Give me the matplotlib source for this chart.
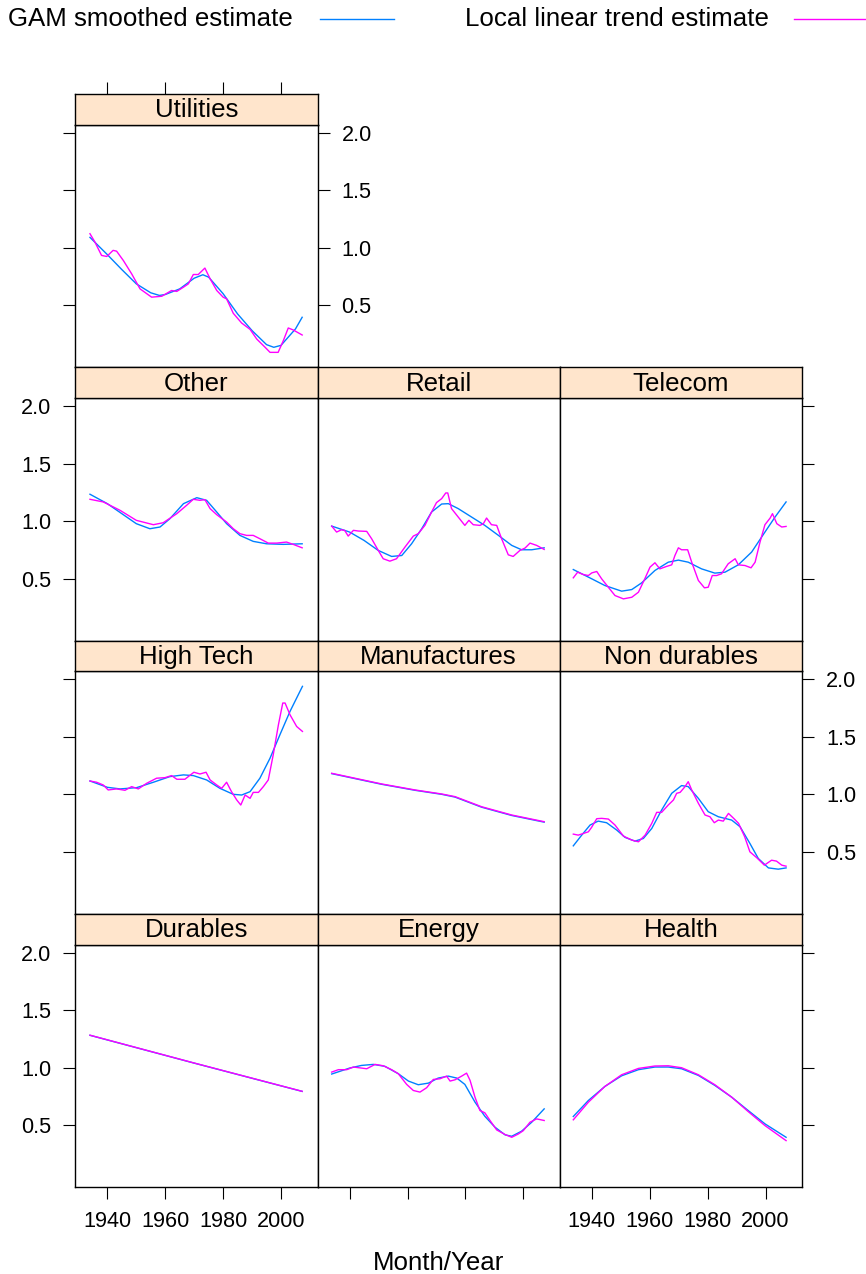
import matplotlib
matplotlib.use('Agg')
import matplotlib.pyplot as plt
from matplotlib.lines import Line2D

plt.rcParams['font.family'] = ['Liberation Sans', 'DejaVu Sans']

# ---------------- data ----------------
legend_labels = ['GAM smoothed estimate', 'Local linear trend estimate']
x_ticks = [1940, 1960, 1980, 2000]
y_ticks = [0.5, 1.0, 1.5, 2.0]
y_tick_labels = ['0.5', '1.0', '1.5', '2.0']
x_label = 'Month/Year'

utilities_gam_year = [1934, 1940, 1945, 1950, 1955, 1958, 1960, 1965, 1970, 1973, 1975, 1980, 1985, 1990, 1995, 1997.5, 2000, 2005, 2007.3]
utilities_gam = [1.09, 0.94, 0.81, 0.686, 0.608, 0.585, 0.593, 0.642, 0.735, 0.765, 0.744, 0.60, 0.424, 0.279, 0.157, 0.134, 0.151, 0.294, 0.395]
utilities_llt_year = [1934, 1935.7, 1938, 1939.8, 1942, 1943.2, 1945.5, 1948.4, 1951.3, 1955.3, 1958.8, 1962.2, 1964, 1966.3, 1968, 1969.7, 1971.4, 1973.7, 1975.5, 1977.8, 1980, 1981.2, 1983.5, 1986.4, 1989.3, 1991.6, 1994.5, 1996.2, 1999, 2000.8, 2002.5, 2004.2, 2007.3]
utilities_llt = [1.122, 1.05, 0.933, 0.924, 0.977, 0.97, 0.89, 0.773, 0.642, 0.57, 0.578, 0.628, 0.62, 0.657, 0.686, 0.767, 0.767, 0.823, 0.73, 0.628, 0.57, 0.555, 0.43, 0.345, 0.29, 0.206, 0.134, 0.09, 0.09, 0.192, 0.302, 0.285, 0.241]

other_gam_year = [1934, 1940, 1945, 1950, 1954.7, 1958.2, 1961.6, 1966.3, 1970.9, 1974.3, 1977.8, 1981.2, 1985.8, 1990.4, 1995, 2000.8, 2007.3]
other_gam = [1.233, 1.151, 1.064, 0.977, 0.933, 0.948, 1.02, 1.151, 1.203, 1.18, 1.078, 0.977, 0.875, 0.823, 0.802, 0.797, 0.802]
other_llt_year = [1934, 1938.6, 1944.4, 1950, 1955.9, 1959.3, 1964, 1967.4, 1969.7, 1972, 1973.7, 1975.5, 1977.8, 1981.2, 1983.5, 1985.8, 1988.1, 1990.4, 1992.7, 1995.6, 1998.5, 2001.9, 2004.2, 2007.3]
other_llt = [1.189, 1.166, 1.093, 1.006, 0.968, 0.985, 1.064, 1.137, 1.189, 1.18, 1.186, 1.108, 1.055, 0.991, 0.933, 0.89, 0.875, 0.875, 0.846, 0.808, 0.808, 0.817, 0.797, 0.767]

retail_gam_year = [1933.8, 1940, 1945, 1949.9, 1954.5, 1958, 1961.4, 1964.9, 1968.3, 1971.8, 1974.1, 1977.5, 1982.1, 1986.7, 1991.4, 1996, 1999.4, 2002.9, 2007.2]
retail_gam = [0.956, 0.904, 0.831, 0.744, 0.692, 0.70, 0.802, 0.933, 1.078, 1.148, 1.151, 1.108, 1.035, 0.962, 0.875, 0.788, 0.75, 0.75, 0.767]
retail_llt_year = [1933.8, 1935.5, 1937.2, 1938.3, 1939.5, 1941.3, 1943, 1945.9, 1947.6, 1949.9, 1951.6, 1953.9, 1956.2, 1959.1, 1962, 1963.7, 1966, 1968.3, 1970, 1971.8, 1973.2, 1973.9, 1975.2, 1977.5, 1979.8, 1981.2, 1982.7, 1985, 1986.2, 1987.3, 1989, 1990.8, 1992.5, 1994.8, 1996.5, 1998.8, 2000.6, 2002.3, 2004.6, 2007.2]
retail_llt = [0.956, 0.904, 0.924, 0.918, 0.869, 0.919, 0.913, 0.91, 0.846, 0.744, 0.672, 0.651, 0.672, 0.773, 0.869, 0.89, 0.962, 1.078, 1.16, 1.195, 1.244, 1.244, 1.108, 1.035, 0.962, 1.006, 0.968, 0.962, 0.977, 1.026, 0.968, 0.962, 0.846, 0.706, 0.692, 0.744, 0.765, 0.808, 0.788, 0.753]

telecom_gam_year = [1933.6, 1940, 1944.5, 1950.3, 1953.8, 1957.2, 1961.8, 1966.4, 1969.9, 1973.3, 1977.9, 1982.5, 1986, 1990.6, 1995.2, 1999.8, 2003.3, 2007.1]
telecom_gam = [0.578, 0.497, 0.439, 0.39, 0.404, 0.462, 0.57, 0.642, 0.66, 0.642, 0.584, 0.547, 0.555, 0.619, 0.73, 0.904, 1.035, 1.166]
telecom_llt_year = [1933.6, 1935.1, 1937, 1938.8, 1940, 1941.7, 1943.4, 1945.7, 1948, 1950.9, 1953.8, 1956.1, 1958.4, 1960.1, 1961.8, 1963.5, 1965.8, 1967.6, 1968.7, 1969.9, 1971, 1973.1, 1974.5, 1976.8, 1978.9, 1980.2, 1981.6, 1983.1, 1984.8, 1987.1, 1989.5, 1990.6, 1992.9, 1995, 1996.4, 1998.1, 1999.8, 2001.6, 2002.4, 2003.9, 2005.6, 2007.1]
telecom_llt = [0.506, 0.555, 0.535, 0.526, 0.549, 0.561, 0.497, 0.424, 0.352, 0.323, 0.337, 0.381, 0.503, 0.599, 0.637, 0.584, 0.605, 0.619, 0.70, 0.767, 0.75, 0.75, 0.642, 0.483, 0.419, 0.424, 0.526, 0.526, 0.541, 0.628, 0.672, 0.619, 0.613, 0.593, 0.642, 0.817, 0.968, 1.026, 1.064, 0.977, 0.948, 0.953]

hightech_gam_year = [1934, 1940, 1944.4, 1950.1, 1955.9, 1961.6, 1966.3, 1969.7, 1974.3, 1978.9, 1983.5, 1986.4, 1989.3, 1992.7, 1996.2, 1999.6, 2003.1, 2007.4]
hightech_gam = [1.116, 1.061, 1.047, 1.058, 1.105, 1.154, 1.169, 1.163, 1.125, 1.052, 1.0, 0.994, 1.023, 1.14, 1.314, 1.517, 1.721, 1.939]
hightech_llt_year = [1934, 1936.3, 1938.6, 1940.3, 1943.2, 1946.1, 1948.4, 1950.7, 1953.6, 1957, 1959.9, 1962.2, 1964, 1966.8, 1969.9, 1972, 1974.1, 1975.5, 1977.8, 1979.5, 1981.2, 1982.9, 1984.7, 1986.1, 1987.6, 1989.3, 1990.4, 1992.2, 1993.9, 1995.6, 1997.3, 1999.1, 2000.6, 2001.4, 2003.1, 2005.4, 2007.4]
hightech_llt = [1.116, 1.105, 1.081, 1.038, 1.047, 1.035, 1.067, 1.047, 1.096, 1.14, 1.145, 1.163, 1.131, 1.131, 1.192, 1.177, 1.192, 1.125, 1.081, 1.052, 1.105, 1.023, 0.951, 0.907, 0.994, 0.965, 1.017, 1.017, 1.067, 1.125, 1.343, 1.605, 1.794, 1.794, 1.692, 1.59, 1.547]

manuf_gam_year = [1933.8, 1941.8, 1951.1, 1962.6, 1971.8, 1976.4, 1985.6, 1996, 2007.2]
manuf_gam = [1.18, 1.137, 1.087, 1.035, 1.0, 0.976, 0.888, 0.816, 0.758]
manuf_llt_year = [1933.8, 1941.8, 1951.1, 1962.6, 1971.8, 1976.4, 1985.6, 1996, 2007.2]
manuf_llt = [1.183, 1.14, 1.09, 1.038, 1.003, 0.98, 0.892, 0.82, 0.762]

nondur_gam_year = [1933.6, 1936.5, 1939.4, 1942.2, 1945.1, 1948.6, 1951.5, 1954.9, 1957.8, 1960.7, 1964.1, 1967.6, 1971, 1973.3, 1976.8, 1980.2, 1983.7, 1988.3, 1991.2, 1994.6, 1997.5, 2001, 2004.4, 2007.1]
nondur_gam = [0.552, 0.645, 0.733, 0.767, 0.753, 0.689, 0.625, 0.593, 0.616, 0.703, 0.863, 1.009, 1.076, 1.067, 0.965, 0.849, 0.805, 0.776, 0.718, 0.573, 0.442, 0.36, 0.349, 0.36]
nondur_llt_year = [1933.6, 1935.3, 1938.8, 1939.9, 1941.7, 1943.4, 1945.7, 1948, 1950.9, 1953.8, 1956.1, 1958.4, 1960.7, 1962.4, 1964.1, 1966.4, 1968.2, 1969.3, 1970.5, 1972.2, 1973.3, 1974.5, 1976.8, 1979.1, 1980.8, 1982.3, 1983.7, 1985.4, 1987.2, 1989, 1990.7, 1992.8, 1994.6, 1997, 1999.6, 2002.1, 2003.8, 2005.6, 2007.1]
nondur_llt = [0.654, 0.645, 0.674, 0.712, 0.788, 0.791, 0.785, 0.733, 0.637, 0.602, 0.587, 0.645, 0.747, 0.843, 0.843, 0.907, 0.951, 1.009, 1.017, 1.067, 1.11, 1.038, 0.922, 0.82, 0.805, 0.753, 0.776, 0.767, 0.834, 0.791, 0.747, 0.631, 0.5, 0.448, 0.384, 0.427, 0.419, 0.384, 0.375]

durables_gam_year = [1934, 1970, 2007.3]
durables_gam = [1.282, 1.04, 0.794]
durables_llt_year = [1934, 1970, 2007.3]
durables_llt = [1.283, 1.041, 0.795]

energy_gam_year = [1933.8, 1940, 1944.1, 1948.2, 1952.2, 1956.8, 1960.3, 1963.7, 1967.2, 1970.6, 1974.1, 1977, 1979.8, 1983.3, 1986.7, 1990.2, 1993.7, 1996, 1999.4, 2002.9, 2007.2]
energy_gam = [0.945, 0.997, 1.02, 1.029, 1.012, 0.948, 0.884, 0.852, 0.866, 0.91, 0.927, 0.91, 0.855, 0.701, 0.578, 0.483, 0.416, 0.404, 0.448, 0.526, 0.642]
energy_llt_year = [1933.8, 1936.1, 1939, 1941.3, 1944.1, 1945.9, 1948.8, 1951.6, 1954.5, 1956.8, 1959.7, 1962, 1964.3, 1966.6, 1968.9, 1971.2, 1973.5, 1974.7, 1976.4, 1978.7, 1980.4, 1981.6, 1983.3, 1985, 1986.7, 1988.5, 1990.8, 1993.7, 1996, 1998.3, 2000, 2002.3, 2004.6, 2007.2]
energy_llt = [0.962, 0.983, 0.983, 1.006, 0.997, 0.991, 1.029, 1.017, 0.983, 0.948, 0.855, 0.802, 0.788, 0.826, 0.898, 0.904, 0.927, 0.884, 0.895, 0.927, 0.953, 0.89, 0.744, 0.628, 0.608, 0.541, 0.459, 0.419, 0.395, 0.424, 0.453, 0.526, 0.555, 0.541]

health_gam_year = [1933.6, 1938.8, 1944.5, 1950.3, 1956.1, 1961.8, 1966.4, 1971, 1976.8, 1982.5, 1988.3, 1994, 1999.8, 2007.1]
health_gam = [0.576, 0.715, 0.837, 0.93, 0.983, 1.006, 1.006, 0.991, 0.933, 0.846, 0.744, 0.628, 0.512, 0.395]
health_llt_year = [1933.6, 1938.8, 1944.5, 1950.3, 1956.1, 1961.8, 1966.4, 1971, 1976.8, 1982.5, 1988.3, 1994, 1999.8, 2007.1]
health_llt = [0.547, 0.70, 0.837, 0.939, 0.994, 1.015, 1.017, 1.0, 0.939, 0.852, 0.744, 0.619, 0.497, 0.366]

panel_names = ['Utilities', 'Other', 'Retail', 'Telecom', 'High Tech', 'Manufactures',
               'Non durables', 'Durables', 'Energy', 'Health']
panel_series = {
    'Utilities': (utilities_gam_year, utilities_gam, utilities_llt_year, utilities_llt),
    'Other': (other_gam_year, other_gam, other_llt_year, other_llt),
    'Retail': (retail_gam_year, retail_gam, retail_llt_year, retail_llt),
    'Telecom': (telecom_gam_year, telecom_gam, telecom_llt_year, telecom_llt),
    'High Tech': (hightech_gam_year, hightech_gam, hightech_llt_year, hightech_llt),
    'Manufactures': (manuf_gam_year, manuf_gam, manuf_llt_year, manuf_llt),
    'Non durables': (nondur_gam_year, nondur_gam, nondur_llt_year, nondur_llt),
    'Durables': (durables_gam_year, durables_gam, durables_llt_year, durables_llt),
    'Energy': (energy_gam_year, energy_gam, energy_llt_year, energy_llt),
    'Health': (health_gam_year, health_gam, health_llt_year, health_llt),
}

# ---------------- layout ----------------
W, H = 866, 1274
fig = plt.figure(figsize=(W / 100, H / 100), dpi=100)

GAM_COLOR = '#0080ff'
LLT_COLOR = '#ff00ff'
STRIP_COLOR = '#ffe5cc'
FS_MAIN = 18.6
FS_TICK = 15.6
TICK_LEN = 8.5
TICK_PAD = 8.8

col_left = [75.2, 317.5, 559.7]
row_top = [94.0, 367.3, 640.6, 914.0]
pw, sh, ph = 242.3, 30.7, 242.6
XLIM = (1928.9, 2012.6)
YLIM = (-0.04, 2.07)

layout = {
    'Utilities': (0, 0), 'Other': (1, 0), 'Retail': (1, 1), 'Telecom': (1, 2),
    'High Tech': (2, 0), 'Manufactures': (2, 1), 'Non durables': (2, 2),
    'Durables': (3, 0), 'Energy': (3, 1), 'Health': (3, 2),
}
# (left ticks, left labels, right ticks, right labels, bottom ticks, bottom labels, top ticks)
axis_spec = {
    'Utilities': (True, False, True, True, False, False, True),
    'Other': (True, True, False, False, False, False, False),
    'Retail': (False, False, False, False, False, False, False),
    'Telecom': (False, False, True, False, False, False, False),
    'High Tech': (True, False, False, False, False, False, False),
    'Manufactures': (False, False, False, False, False, False, False),
    'Non durables': (False, False, True, True, False, False, False),
    'Durables': (True, True, False, False, True, True, False),
    'Energy': (False, False, False, False, True, False, False),
    'Health': (False, False, True, False, True, True, False),
}


def add_px_axes(x, y_top, w, h):
    return fig.add_axes([x / W, 1 - (y_top + h) / H, w / W, h / H])


for name in panel_names:
    r, c = layout[name]
    x0 = col_left[c]
    y0 = row_top[r]
    gy, gv, ly, lv = panel_series[name]
    lt, ll, rt, rl, bt, bl, tt = axis_spec[name]

    ax = add_px_axes(x0, y0 + sh, pw, ph)
    ax.plot(gy, gv, color=GAM_COLOR, lw=1.0)
    ax.plot(ly, lv, color=LLT_COLOR, lw=1.0)
    ax.set_xlim(*XLIM)
    ax.set_ylim(*YLIM)
    ax.set_xticks(x_ticks)
    ax.set_xticklabels([str(t) for t in x_ticks])
    ax.set_yticks(y_ticks)
    ax.set_yticklabels(y_tick_labels)
    ax.tick_params(direction='out', length=TICK_LEN, width=0.8, pad=TICK_PAD,
                   labelsize=FS_TICK, colors='black',
                   left=lt, labelleft=ll, right=rt, labelright=rl,
                   bottom=bt, labelbottom=bl, top=False, labeltop=False)
    for s in ax.spines.values():
        s.set_linewidth(1.0)

    sax = add_px_axes(x0, y0, pw, sh)
    sax.set_facecolor(STRIP_COLOR)
    sax.set_xlim(*XLIM)
    sax.set_ylim(0, 1)
    sax.set_xticks(x_ticks)
    sax.set_yticks([])
    sax.tick_params(direction='out', length=TICK_LEN, width=0.8,
                    top=tt, labeltop=False, bottom=False, labelbottom=False)
    for s in sax.spines.values():
        s.set_linewidth(1.0)
    sax.text(0.5, 0.47, name, transform=sax.transAxes, ha='center', va='center',
             fontsize=FS_MAIN)

# legend at the top
fig.text(8 / W, 1 - 19 / H, legend_labels[0], ha='left', va='center', fontsize=FS_MAIN)
fig.add_artist(Line2D([320 / W, 394 / W], [1 - 19 / H, 1 - 19 / H], color=GAM_COLOR, lw=1.0))
fig.text(465 / W, 1 - 19 / H, legend_labels[1], ha='left', va='center', fontsize=FS_MAIN)
fig.add_artist(Line2D([794 / W, 870 / W], [1 - 19 / H, 1 - 19 / H], color=LLT_COLOR, lw=1.0))

# x-axis title
fig.text(438.5 / W, 1 - 1270.5 / H, x_label, ha='center', va='baseline', fontsize=FS_MAIN)

fig.savefig('out.png', dpi=100)
